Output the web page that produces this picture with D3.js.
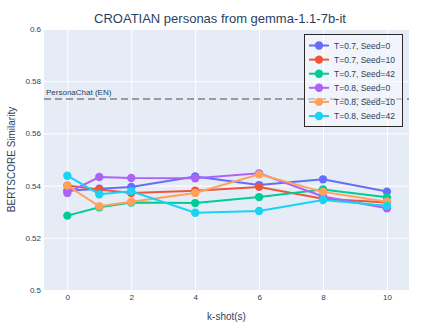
<html>
<head>
  <script src='https://d3js.org/d3.v7.min.js'></script>
  <style>
    body { margin: 0; background: #fff; }
    text { font-family: "Liberation Sans", Arial, sans-serif; fill: #2a3f5f; }
  </style>
</head>
<body>
<script>
  var width = 439;
  var height = 329;

  // data
  var shots = [0, 1, 2, 4, 6, 8, 10];
  var seriesNames = ['T=0.7, Seed=0', 'T=0.7, Seed=10', 'T=0.7, Seed=42',
                     'T=0.8, Seed=0', 'T=0.8, Seed=10', 'T=0.8, Seed=42'];
  var colors = ['#636efa', '#EF553B', '#00cc96', '#ab63fa', '#FFA15A', '#19d3f3'];
  var t07seed0  = [0.5380, 0.5388, 0.5395, 0.5435, 0.5402, 0.5424, 0.5377];
  var t07seed10 = [0.5400, 0.5385, 0.5372, 0.5380, 0.5395, 0.5350, 0.5335];
  var t07seed42 = [0.5285, 0.5317, 0.5335, 0.5333, 0.5356, 0.5385, 0.5355];
  var t08seed0  = [0.5372, 0.5433, 0.5429, 0.5428, 0.5447, 0.5358, 0.5313];
  var t08seed10 = [0.5400, 0.5321, 0.5338, 0.5372, 0.5443, 0.5376, 0.5338];
  var t08seed42 = [0.5438, 0.5367, 0.5378, 0.5296, 0.5303, 0.5345, 0.5323];
  var allSeries = [t07seed0, t07seed10, t07seed42, t08seed0, t08seed10, t08seed42];
  var baseline = 0.5732;
  var baselineLabel = 'PersonaChat (EN)';
  var yTicks = [0.5, 0.52, 0.54, 0.56, 0.58, 0.6];
  var xTicks = [0, 2, 4, 6, 8, 10];

  var plot = {left: 44, right: 409, top: 29, bottom: 290};

  var svg = d3.select('body').append('svg')
    .attr('width', width)
    .attr('height', height);

  svg.append('rect')
    .attr('width', width).attr('height', height)
    .attr('fill', '#fff');

  var x = d3.scaleLinear().domain([-0.73, 10.69]).range([plot.left, plot.right]);
  var y = d3.scaleLinear().domain([0.5, 0.6]).range([plot.bottom, plot.top]);

  // plot background
  svg.append('rect')
    .attr('x', plot.left).attr('y', plot.top)
    .attr('width', plot.right - plot.left)
    .attr('height', plot.bottom - plot.top)
    .attr('fill', '#E5ECF6');

  // grid lines via axes
  svg.append('g')
    .attr('transform', 'translate(0,' + plot.bottom + ')')
    .call(d3.axisBottom(x).tickValues(xTicks).tickSize(-(plot.bottom - plot.top)).tickFormat(''))
    .call(g => g.select('.domain').remove())
    .call(g => g.selectAll('line').attr('stroke', '#fff').attr('stroke-width', 1));

  svg.append('g')
    .attr('transform', 'translate(' + plot.left + ',0)')
    .call(d3.axisLeft(y).tickValues(yTicks).tickSize(-(plot.right - plot.left)).tickFormat(''))
    .call(g => g.select('.domain').remove())
    .call(g => g.selectAll('line').attr('stroke', '#fff').attr('stroke-width', 1));

  // tick labels
  svg.append('g')
    .attr('transform', 'translate(0,' + plot.bottom + ')')
    .call(d3.axisBottom(x).tickValues(xTicks).tickSize(0).tickPadding(4).tickFormat(d3.format('d')))
    .call(g => g.select('.domain').remove())
    .call(g => g.selectAll('text').style('font-size', '8px').attr('fill', '#2a3f5f')
      .style('font-family', '"Liberation Sans", Arial, sans-serif'));

  svg.append('g')
    .attr('transform', 'translate(' + plot.left + ',0)')
    .call(d3.axisLeft(y).tickValues(yTicks).tickSize(0).tickPadding(3).tickFormat(d => String(+d.toFixed(2))))
    .call(g => g.select('.domain').remove())
    .call(g => g.selectAll('text').style('font-size', '8px').attr('fill', '#2a3f5f')
      .style('font-family', '"Liberation Sans", Arial, sans-serif'));

  // axis titles
  svg.append('text')
    .attr('x', (plot.left + plot.right) / 2).attr('y', 320)
    .attr('text-anchor', 'middle')
    .style('font-size', '10px')
    .text('k-shot(s)');

  svg.append('text')
    .attr('transform', 'translate(15,' + ((plot.top + plot.bottom) / 2) + ') rotate(-90)')
    .attr('text-anchor', 'middle')
    .style('font-size', '10px')
    .text('BERTSCORE Similarity');

  // title
  svg.append('text')
    .attr('x', 220).attr('y', 23)
    .attr('text-anchor', 'middle')
    .style('font-size', '13px')
    .text('CROATIAN personas from gemma-1.1-7b-it');

  // baseline
  svg.append('line')
    .attr('x1', plot.left).attr('x2', plot.right)
    .attr('y1', y(baseline)).attr('y2', y(baseline))
    .attr('stroke', '#808080')
    .attr('stroke-width', 1.6)
    .attr('stroke-dasharray', '7,4');

  svg.append('text')
    .attr('x', plot.left + 2).attr('y', y(baseline) - 4)
    .style('font-size', '8px')
    .text(baselineLabel);

  // series
  var line = d3.line().x((d, i) => x(shots[i])).y(d => y(d));

  allSeries.forEach(function(vals, k) {
    var g = svg.append('g');
    g.append('path')
      .attr('d', line(vals))
      .attr('fill', 'none')
      .attr('stroke', colors[k])
      .attr('stroke-width', 2);
    g.selectAll('circle')
      .data(vals)
      .enter()
      .append('circle')
      .attr('cx', (d, i) => x(shots[i]))
      .attr('cy', d => y(d))
      .attr('r', 4.2)
      .attr('fill', colors[k]);
  });

  // legend
  var legend = svg.append('g');
  legend.append('rect')
    .attr('x', 304.5).attr('y', 34.5)
    .attr('width', 98).attr('height', 92)
    .attr('fill', 'rgba(255,255,255,0.45)')
    .attr('stroke', '#2a2a2a')
    .attr('stroke-width', 1);

  seriesNames.forEach(function(name, k) {
    var cy = 45.5 + k * 14.1;
    legend.append('line')
      .attr('x1', 309).attr('x2', 329)
      .attr('y1', cy).attr('y2', cy)
      .attr('stroke', colors[k]).attr('stroke-width', 2);
    legend.append('circle')
      .attr('cx', 319).attr('cy', cy).attr('r', 4.2)
      .attr('fill', colors[k]);
    legend.append('text')
      .attr('x', 334).attr('y', cy + 3)
      .style('font-size', '8.5px')
      .text(name);
  });
</script>
</body>
</html>
